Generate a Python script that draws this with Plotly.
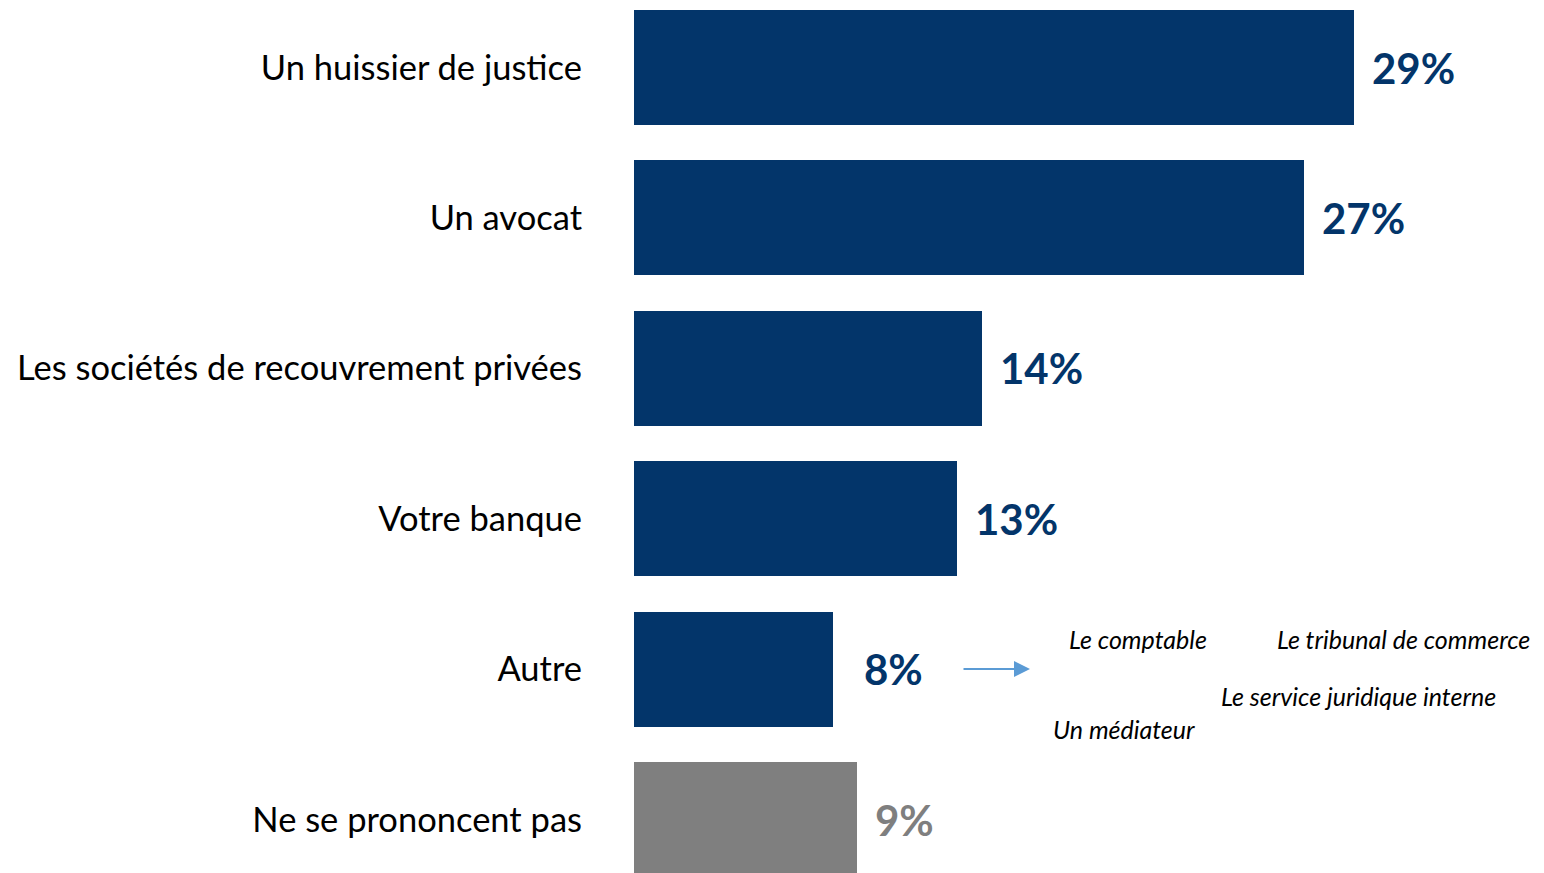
import plotly.graph_objects as go

categories = ["Un huissier de justice", "Un avocat", "Les sociétés de recouvrement privées",
              "Votre banque", "Autre", "Ne se prononcent pas"]
values = [29, 27, 14, 13, 8, 9]
colors = ["#03356A", "#03356A", "#03356A", "#03356A", "#03356A", "#7F7F7F"]
other_items = ["Le comptable", "Le tribunal de commerce", "Le service juridique interne", "Un médiateur"]

OFF = 8  # page body margin
W, H = 1544 - OFF, 873 - OFF
L = 634 - OFF
PX_PER_PCT = 720 / 29.0
xmax = (W - L) / PX_PER_PCT
step = 150.4
c0 = 67.5 - OFF
y_top = -c0 / step
y_bot = (H - c0) / step


def xdata(page_px):
    return (page_px - 634) / PX_PER_PCT


def ydata(page_py):
    return (page_py - 67.5) / step


fig = go.Figure()
fig.add_trace(go.Bar(
    x=values, y=categories, orientation="h",
    marker=dict(color=colors, line=dict(width=0)),
    width=0.765, hoverinfo="skip",
))

label_font = "Lato, 'Open Sans', sans-serif"
for c, v, col in zip(categories, values, colors):
    fig.add_annotation(
        x=v, y=c, xref="x", yref="y", text=f"<b>{v}%</b>",
        showarrow=False, xanchor="left", yanchor="middle",
        xshift=29 if c == "Autre" else 16, yshift=0,
        font=dict(family=label_font, size=42, color=col),
    )

# arrow next to "Autre"
fig.add_annotation(
    x=xdata(1030), y="Autre", xref="x", yref="y",
    ax=xdata(962), ay="Autre", axref="x", ayref="y",
    text="", showarrow=True, arrowhead=2, arrowsize=1.6, arrowwidth=2,
    arrowcolor="#5B9BD5",
)

# detail items for "Autre"
pos = [(1067, 639), (1275, 639), (1219, 696), (1051, 729)]
for t, (px, py) in zip(other_items, pos):
    fig.add_annotation(
        x=xdata(px), y=ydata(py), xref="x", yref="y",
        text=f"<i>{t}</i>", showarrow=False, xanchor="left", yanchor="middle",
        font=dict(family=label_font, size=25, color="#000000"),
    )

fig.update_layout(
    width=W, height=H,
    margin=dict(l=L, r=0, t=0, b=0),
    paper_bgcolor="white", plot_bgcolor="white",
    showlegend=False, bargap=0,
    xaxis=dict(range=[0, xmax], visible=False, fixedrange=True, automargin=False),
    yaxis=dict(
        range=[y_bot, y_top], showgrid=False, zeroline=False, showline=False,
        ticks="", ticklabelstandoff=51, automargin=False,
        tickfont=dict(family=label_font, size=34.5, color="#000000"),
        fixedrange=True,
    ),
)

fig.write_html("out.html", config={"displayModeBar": False})
